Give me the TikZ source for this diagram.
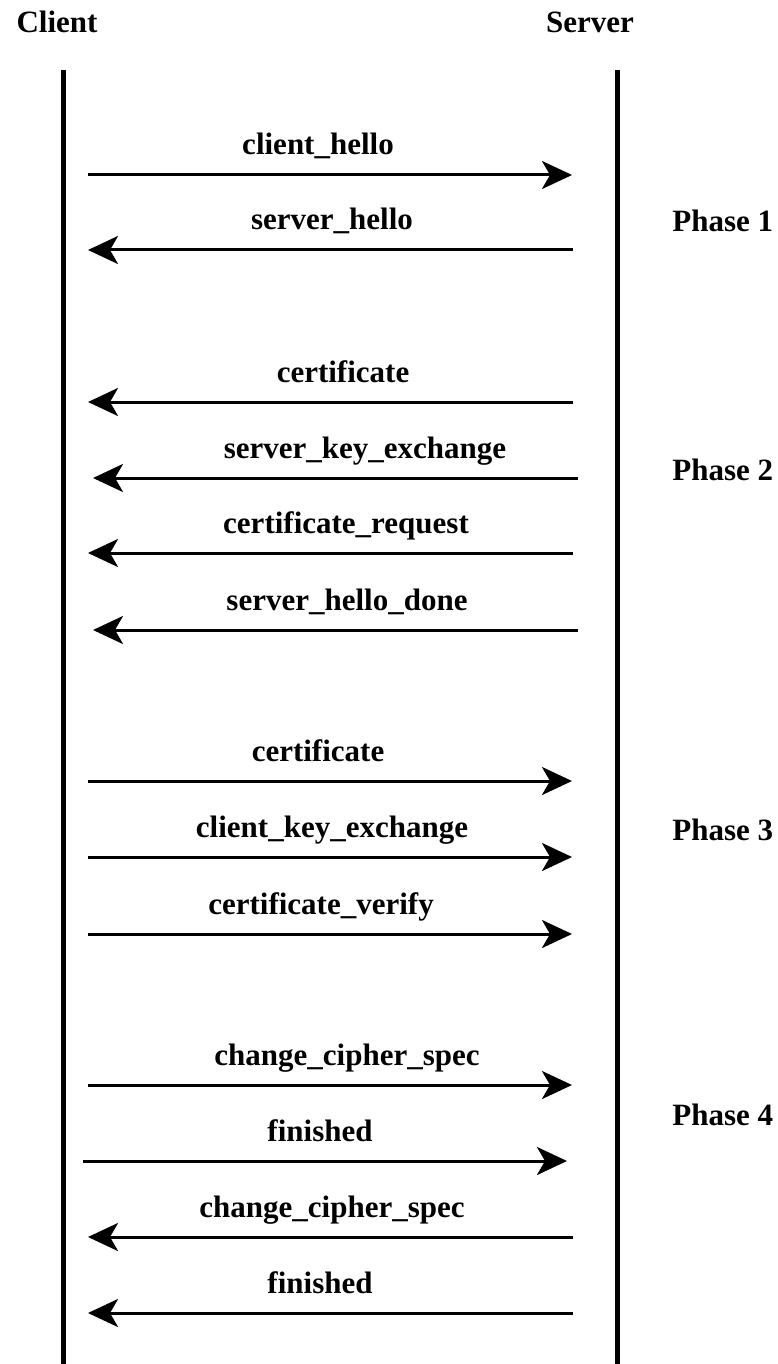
\documentclass[tikz,border=0pt]{standalone}
\usepackage{fontspec}
\setmainfont{Liberation Serif}
\usetikzlibrary{arrows.meta,positioning}

\tikzset{
  msg/.style={line width=1.5pt,-{Stealth[length=15pt,width=14pt,inset=4pt]}},
  life/.style={line width=2.5pt},
  lbl/.style={anchor=base,inner sep=0pt,font=\fontsize{15.5}{18}\selectfont\bfseries},
  phase/.style={anchor=base west,inner sep=0pt,font=\fontsize{15.5}{18}\selectfont\bfseries}
}

\begin{document}
\begin{tikzpicture}[x=0.5pt,y=-0.5pt]
\useasboundingbox (0,0) rectangle (777,1364);

% Parties
\node[lbl] (client) at (57,33) {Client};
\node[lbl] (server) at (590,33) {Server};

% Lifelines
\coordinate (ctop) at (63,70);
\coordinate (cbot) at (63,1364);
\coordinate (stop) at (617,70);
\coordinate (sbot) at (617,1364);
\draw[life] (ctop) -- (cbot);
\draw[life] (stop) -- (sbot);

% Messages: number / from x / to x / y / label x / label
\foreach \n/\xa/\xb/\y/\lx/\txt in {
  1/88/572/175/318/client\_hello,
  2/573/88/250/332/server\_hello,
  3/573/88/402/343/certificate,
  4/578/93/478/365/server\_key\_exchange,
  5/573/88/553/346/certificate\_request,
  6/578/93/630/347/server\_hello\_done,
  7/88/572/781/318/certificate,
  8/88/572/857/332/client\_key\_exchange,
  9/88/572/934/321/certificate\_verify,
  10/88/572/1085/347/change\_cipher\_spec,
  11/83/567/1161/320/finished,
  12/573/88/1237/332/change\_cipher\_spec,
  13/573/88/1313/320/finished}{
  \coordinate (from\n) at (\xa,\y);
  \coordinate (to\n) at (\xb,\y);
  \draw[msg] (from\n) -- (to\n);
  \node[lbl] (msg\n) at (\lx,\y-20) {\txt};
}

% Phases
\node[phase] (ph1) at (672,232) {Phase 1};
\node[phase] (ph2) at (672,480) {Phase 2};
\node[phase] (ph3) at (672,840) {Phase 3};
\node[phase] (ph4) at (672,1125) {Phase 4};

\end{tikzpicture}
\end{document}
